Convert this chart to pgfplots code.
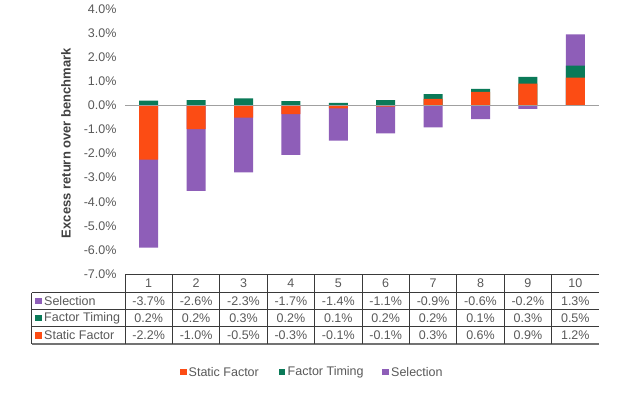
\documentclass[border=0pt]{standalone}
\usepackage{fontspec}
\setmainfont{Liberation Sans}
\usepackage{pgfplots}
\usepackage{pgfplotstable}
\pgfplotsset{compat=1.18}
\definecolor{cStatic}{HTML}{FC4C14}
\definecolor{cTiming}{HTML}{0A7A58}
\definecolor{cSel}{HTML}{8E5EB8}
\definecolor{txt}{HTML}{595959}
\definecolor{tline}{HTML}{3A3A3A}
\definecolor{zline}{HTML}{A0A0A0}

% segment values (percent)
\pgfplotstableread{
cat st    ti   sel
1   -2.25 0.20 -3.65
2   -0.99 0.22 -2.56
3   -0.51 0.29 -2.27
4   -0.36 0.18 -1.70
5   -0.12 0.10 -1.34
6   -0.05 0.22 -1.11
7   0.27  0.20 -0.91
8   0.56  0.12 -0.57
9   0.90  0.28 -0.15
10  1.15  0.50 1.30
}\data

\newcommand{\fs}{\fontsize{12.5}{14}\selectfont}

\begin{document}
\begin{tikzpicture}[x=1pt,y=1pt]
\useasboundingbox (0,0) rectangle (620,397);
\begin{axis}[
  at={(125pt,123pt)}, anchor=south west,
  scale only axis, width=474pt, height=265pt,
  xmin=0.5, xmax=10.5, ymin=-7, ymax=4,
  axis lines=left, axis line style={draw=none},
  xtick=\empty, ytick={-7,-6,...,4},
  major tick length=0pt,
  /pgf/number format/assume math mode=true,
  yticklabel={\pgfmathprintnumber[fixed,fixed zerofill,precision=1]{\tick}\%},
  yticklabel style={font=\fs, text=txt, xshift=-5pt},
  clip=false,
]
% drawn from 0 to each series' stacked end, outermost first
\addplot[ybar, bar width=19pt, bar shift=0pt, fill=cSel, draw=none]
  table[x=cat, y expr={\thisrow{sel}<0 ? (min(\thisrow{st},0)+min(\thisrow{ti},0)+\thisrow{sel}) : (max(\thisrow{st},0)+max(\thisrow{ti},0)+\thisrow{sel})}] {\data};
\addplot[ybar, bar width=19pt, bar shift=0pt, fill=cTiming, draw=none]
  table[x=cat, y expr={\thisrow{ti}<0 ? (min(\thisrow{st},0)+\thisrow{ti}) : (max(\thisrow{st},0)+\thisrow{ti})}] {\data};
\addplot[ybar, bar width=19pt, bar shift=0pt, fill=cStatic, draw=none]
  table[x=cat, y=st] {\data};
\addplot[zline, line width=1.3pt] coordinates {(0.5,0) (10.5,0)};
\end{axis}

% y label
\node[rotate=90, font=\fontsize{13}{15}\selectfont\bfseries, text=black!75] at (66,254) {Excess return over benchmark};

% data table
\begin{scope}[draw=tline, line width=0.7pt]
\draw (125,123) -- (599,123);
\foreach \yy in {104.3,87.7,70.3} \draw (31.7,\yy) -- (599,\yy);
\draw[draw=black!55, line width=1.1pt] (31.7,53) -- (599,53);
\draw (31.7,104.3) -- (31.7,53);
\foreach \i in {0,...,9} \draw ({125+47.4*\i},123) -- ({125+47.4*\i},53);
\end{scope}
\foreach \i in {1,...,10} \node[text=txt, font=\fs] at ({125+47.4*(\i-0.5)},113.65) {\i};
\foreach \v [count=\i] in {-3.7,-2.6,-2.3,-1.7,-1.4,-1.1,-0.9,-0.6,-0.2,1.3}
  \node[text=txt, font=\fs] at ({125+47.4*(\i-0.5)},96) {\v\%};
\foreach \v [count=\i] in {0.2,0.2,0.3,0.2,0.1,0.2,0.2,0.1,0.3,0.5}
  \node[text=txt, font=\fs] at ({125+47.4*(\i-0.5)},79) {\v\%};
\foreach \v [count=\i] in {-2.2,-1.0,-0.5,-0.3,-0.1,-0.1,0.3,0.6,0.9,1.2}
  \node[text=txt, font=\fs] at ({125+47.4*(\i-0.5)},61.65) {\v\%};
% row headers
\fill[cSel] (35,92.8) rectangle (41.5,99.3);
\node[anchor=west, text=txt, font=\fs, inner sep=0pt] at (44,96) {Selection};
\fill[cTiming] (35,75.8) rectangle (41.5,82.3);
\node[anchor=west, text=txt, font=\fs, inner sep=0pt] at (44,79) {Factor Timing};
\fill[cStatic] (35,58.4) rectangle (41.5,64.9);
\node[anchor=west, text=txt, font=\fs, inner sep=0pt] at (44,61.65) {Static Factor};

% legend
\fill[cStatic] (180,21.8) rectangle (186.5,28.3);
\node[anchor=west, text=txt, font=\fs, inner sep=0pt] at (188.5,25) {Static Factor};
\fill[cTiming] (278.7,21.8) rectangle (285.2,28.3);
\node[anchor=west, text=txt, font=\fs, inner sep=0pt] at (287.5,25) {Factor Timing};
\fill[cSel] (382,21.8) rectangle (388.5,28.3);
\node[anchor=west, text=txt, font=\fs, inner sep=0pt] at (391,25) {Selection};
\end{tikzpicture}
\end{document}
